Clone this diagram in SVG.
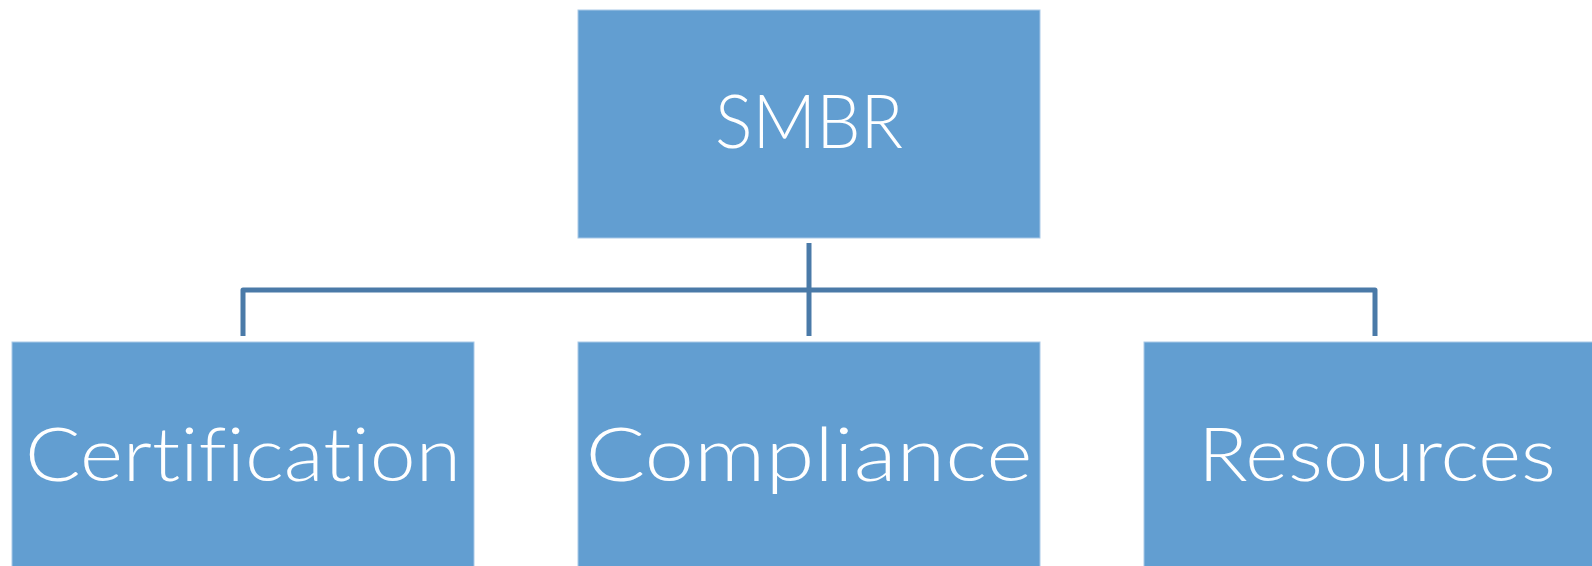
<svg xmlns="http://www.w3.org/2000/svg" width="1592" height="566" viewBox="0 0 1592 566">
<style>
.box{fill:#629ED1;stroke:#A9C9E8;stroke-width:1}
.lbl{fill:#ffffff;font-family:"Lato","Open Sans","DejaVu Sans",sans-serif;font-weight:300;font-size:74px;text-anchor:middle;font-variant-ligatures:none}
.conn{fill:none;stroke:#4A7AA8;stroke-width:5;stroke-linejoin:round}
</style>
<rect width="1592" height="566" fill="#ffffff"/>
<g id="connectors">
<path class="conn" d="M809 243 V336"/>
<path class="conn" d="M243 336 V290 H1375 V336"/>
</g>
<g id="smbr">
<rect class="box" x="578" y="10" width="462" height="228"/>
<text class="lbl" x="809" y="148" textLength="188" lengthAdjust="spacingAndGlyphs">SMBR</text>
</g>
<g id="certification">
<rect class="box" x="12" y="342" width="462" height="230"/>
<text class="lbl" x="243" y="481" textLength="436" lengthAdjust="spacingAndGlyphs">Certification</text>
</g>
<g id="compliance">
<rect class="box" x="578" y="342" width="462" height="230"/>
<text class="lbl" x="809" y="481" textLength="447" lengthAdjust="spacingAndGlyphs">Compliance</text>
</g>
<g id="resources">
<rect class="box" x="1144" y="342" width="462" height="230"/>
<text class="lbl" x="1377" y="481" textLength="358" lengthAdjust="spacingAndGlyphs">Resources</text>
</g>
</svg>
